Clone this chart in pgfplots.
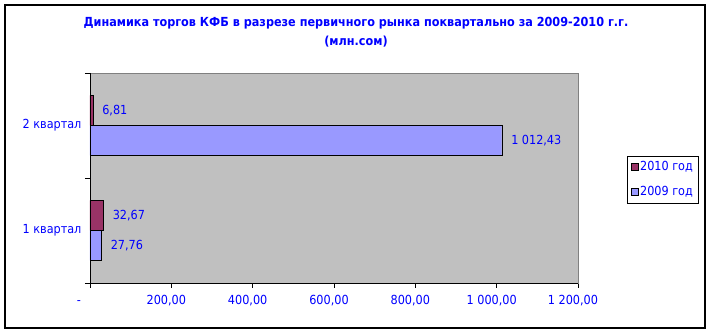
\documentclass[border=0pt]{standalone}
\usepackage{fontspec}
\setmainfont{DejaVu Sans Condensed}
\usepackage{pgfplots}
\pgfplotsset{compat=1.18}
\definecolor{plotgray}{RGB}{192,192,192}
\definecolor{s09}{RGB}{153,153,255}
\definecolor{s10}{RGB}{153,51,102}
\definecolor{txtblue}{RGB}{0,0,255}
\newcommand{\lblfont}{\fontsize{12.5}{15}\selectfont}
\begin{document}
\begin{tikzpicture}[x=1pt,y=1pt]
\path[fill=white] (0,0) rectangle (710,334);
\draw[line width=1.5pt] (5,6) rectangle (705,329);
\node[font=\bfseries\fontsize{12.5}{14}\selectfont, text=txtblue] at (356,311) {Динамика торгов КФБ в разрезе первичного рынка поквартально за 2009-2010 г.г.};
\node[font=\bfseries\fontsize{12.5}{14}\selectfont, text=txtblue] at (356,292) {(млн.сом)};
\begin{axis}[
  at={(90pt,51pt)}, anchor=south west,
  scale only axis, width=488pt, height=210pt,
  xbar, bar width=0.285714,
  xmin=0, xmax=1200, ymin=-0.5, ymax=1.5,
  axis background/.style={fill=plotgray},
  axis line style={draw=gray},
  xtick={0,200,400,600,800,1000,1200},
  xticklabels={{-\vphantom{0}\hspace*{12pt}},{200,00},{400,00},{600,00},{800,00},{1 000,00},{1 200,00}},
  ytick={-0.5,0.5,1.5},
  yticklabels={{},{},{}},
  extra y ticks={0,1},
  extra y tick labels={1 квартал,2 квартал},
  extra y tick style={major tick length=0pt, yticklabel style={xshift=-5pt}},
  xtick pos=bottom, ytick pos=left,
  tick align=outside, major tick length=5pt,
  tick style={black, line width=0.8pt},
  ticklabel style={font=\lblfont, text=txtblue},
  xticklabel style={xshift=-5pt, yshift=-4pt},
  nodes near coords={\pgfmathprintnumber[fixed,fixed zerofill,precision=2,use comma,1000 sep={\ },assume math mode=true]{\pgfplotspointmeta}},
  nodes near coords style={font=\lblfont, text=txtblue, anchor=west, xshift=6pt},
  legend style={at={(1.1004,0.6048)}, anchor=north west, draw=black, fill=white,
    font=\lblfont, text=txtblue, row sep=10pt, inner sep=3.5pt},
  legend cell align=left,
  reverse legend,
]
\addplot[fill=s09, draw=black, bar shift=-0.142857,
  legend image code/.code={\draw[fill=s09,draw=black] (0pt,-3.5pt) rectangle (7pt,3.5pt);}]
  coordinates {(27.76,0) (1012.43,1)};
\addplot[fill=s10, draw=black, bar shift=0.142857,
  legend image code/.code={\draw[fill=s10,draw=black] (0pt,-3.5pt) rectangle (7pt,3.5pt);}]
  coordinates {(32.67,0) (6.81,1)};
\legend{2009 год, 2010 год}
\end{axis}
\draw[black, line width=0.8pt] (90,261) -- (90,51) -- (578,51);
\end{tikzpicture}
\end{document}
